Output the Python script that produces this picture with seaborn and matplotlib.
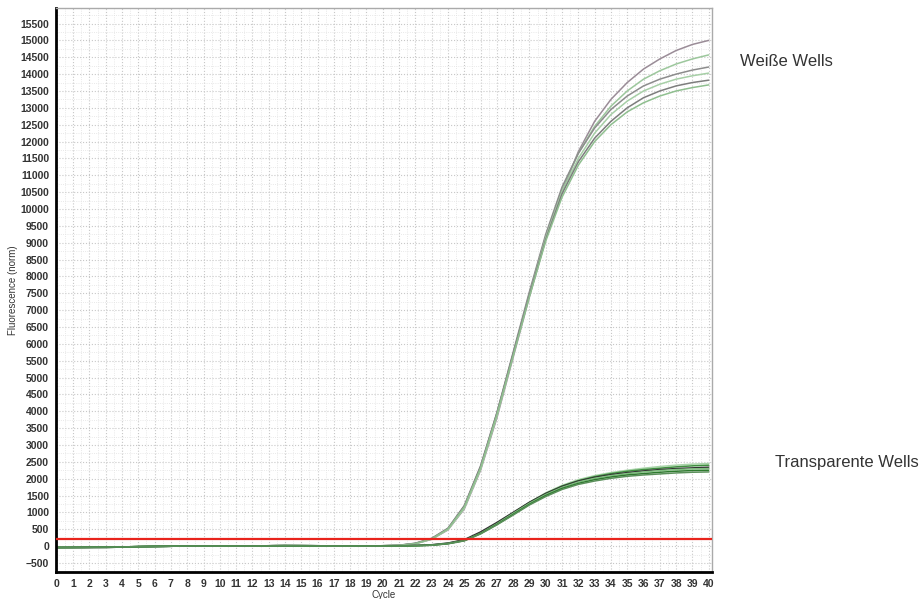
import numpy as np
import pandas as pd
import matplotlib
matplotlib.use("Agg")
import matplotlib.pyplot as plt
import seaborn as sns

# Zyklen
cycles = list(range(41))

# Basislinie (Zyklus 0-20)
baseline_white = [-55, -50, -45, -40, -30, -20, -10, -5, 0, 0, 0, 0, 5, 10, 20, 15, 10, 5, 5, 5, 10]
baseline_trans = [-40, -38, -35, -30, -25, -15, -10, -5, 0, 0, 0, 0, 0, 5, 10, 5, 5, 0, 0, 0, 0]

# Weiße Wells (Zyklus 21-40)
white_a = [20, 70, 200, 480, 1100, 2250, 3800, 5600, 7400, 9100, 10500, 11700, 12600, 13250, 13750, 14150, 14450, 14700, 14880, 15000]
white_b = [20, 75, 210, 500, 1150, 2300, 3900, 5700, 7500, 9200, 10600, 11650, 12450, 13050, 13500, 13850, 14100, 14300, 14450, 14570]
white_c = [25, 80, 220, 520, 1180, 2350, 3950, 5750, 7550, 9250, 10650, 11650, 12400, 12950, 13350, 13650, 13850, 14000, 14120, 14210]
white_d = [20, 70, 205, 490, 1120, 2280, 3850, 5650, 7450, 9150, 10500, 11500, 12250, 12800, 13200, 13500, 13700, 13850, 13950, 14030]
white_e = [25, 85, 230, 530, 1200, 2380, 3950, 5700, 7450, 9100, 10450, 11400, 12100, 12600, 13000, 13300, 13500, 13650, 13750, 13820]
white_f = [20, 75, 215, 510, 1160, 2320, 3900, 5650, 7400, 9050, 10350, 11300, 12000, 12500, 12880, 13150, 13350, 13500, 13600, 13680]

# Transparente Wells (Zyklus 21-40)
trans_1 = [0, 15, 35, 85, 180, 400, 680, 990, 1300, 1580, 1800, 1970, 2090, 2180, 2250, 2310, 2360, 2400, 2430, 2450]
trans_2 = [0, 15, 30, 80, 175, 390, 670, 980, 1290, 1560, 1780, 1940, 2060, 2150, 2220, 2270, 2310, 2350, 2380, 2400]
trans_3 = [5, 20, 40, 90, 190, 420, 700, 1000, 1300, 1560, 1770, 1930, 2040, 2120, 2180, 2230, 2270, 2300, 2320, 2340]
trans_4 = [0, 10, 30, 75, 165, 380, 660, 970, 1270, 1530, 1740, 1900, 2010, 2090, 2150, 2200, 2240, 2270, 2290, 2300]
trans_5 = [0, 10, 25, 70, 160, 370, 640, 940, 1240, 1500, 1710, 1860, 1970, 2050, 2110, 2150, 2190, 2220, 2240, 2250]
trans_6 = [0, 10, 25, 70, 155, 360, 630, 920, 1220, 1470, 1680, 1830, 1930, 2010, 2070, 2110, 2140, 2170, 2190, 2200]

threshold = 200

white = {"W1": white_a, "W2": white_b, "W3": white_c, "W4": white_d, "W5": white_e, "W6": white_f}
trans = {"T1": trans_1, "T2": trans_2, "T3": trans_3, "T4": trans_4, "T5": trans_5, "T6": trans_6}

palette = {
    "W1": "#9a8c97", "W2": "#9cc79c", "W3": "#8c8c8c",
    "W4": "#a6cfa6", "W5": "#7d7d7d", "W6": "#8fbf8f",
    "T1": "#a8d4a8", "T2": "#3f8f3f", "T3": "#333333",
    "T4": "#7fbf7f", "T5": "#2e7a2e", "T6": "#5a8f5a",
}

rows = []
for name, vals in white.items():
    for c, v in zip(cycles, baseline_white + vals):
        rows.append((name, c, v))
for name, vals in trans.items():
    for c, v in zip(cycles, baseline_trans + vals):
        rows.append((name, c, v))
df = pd.DataFrame(rows, columns=["well", "cycle", "fluor"])

sns.set_style("white")
plt.rcParams["font.family"] = ["Liberation Sans", "DejaVu Sans"]

fig = plt.figure(figsize=(9.2, 5.99), dpi=100)
ax = fig.add_axes([0.0609, 0.045, 0.713, 0.9416])

sns.lineplot(data=df, x="cycle", y="fluor", hue="well", palette=palette,
             estimator=None, legend=False, linewidth=1.1, ax=ax)
ax.axhline(threshold, color="#e8241c", linewidth=1.6, zorder=5)

ax.set_xlim(-0.05, 40.2)
ax.set_ylim(-770, 15960)
ax.set_xticks(range(0, 41))
ax.set_yticks(range(-500, 15501, 500))
ax.set_xticks(np.arange(0.5, 40, 1), minor=True)
ax.set_yticks(range(-250, 15800, 500), minor=True)
ax.grid(which="major", linestyle=":", color="#c8c8c8", linewidth=0.8)
ax.grid(which="minor", linestyle=":", color="#e2e2e2", linewidth=0.6)
ax.tick_params(axis="both", which="major", labelsize=7.5, length=3, width=0.8,
               colors="#333333", pad=2)
ax.tick_params(axis="both", which="minor", length=0)
for lab in ax.get_xticklabels() + ax.get_yticklabels():
    lab.set_fontweight("bold")

for side in ["left", "bottom"]:
    ax.spines[side].set_color("black")
    ax.spines[side].set_linewidth(2)
for side in ["top", "right"]:
    ax.spines[side].set_color("#aaaaaa")
    ax.spines[side].set_linewidth(1)

ax.set_xlabel("Cycle", fontsize=7, color="#333333", labelpad=1)
ax.set_ylabel("Fluorescence (norm)", fontsize=7, color="#333333", labelpad=2)

fig.text(740 / 920, 1 - 62 / 599, "Weiße Wells", fontsize=12, color="#333333", va="center")
fig.text(775 / 920, 1 - 463 / 599, "Transparente Wells", fontsize=12, color="#333333", va="center")

fig.savefig("out.png", dpi=100)
